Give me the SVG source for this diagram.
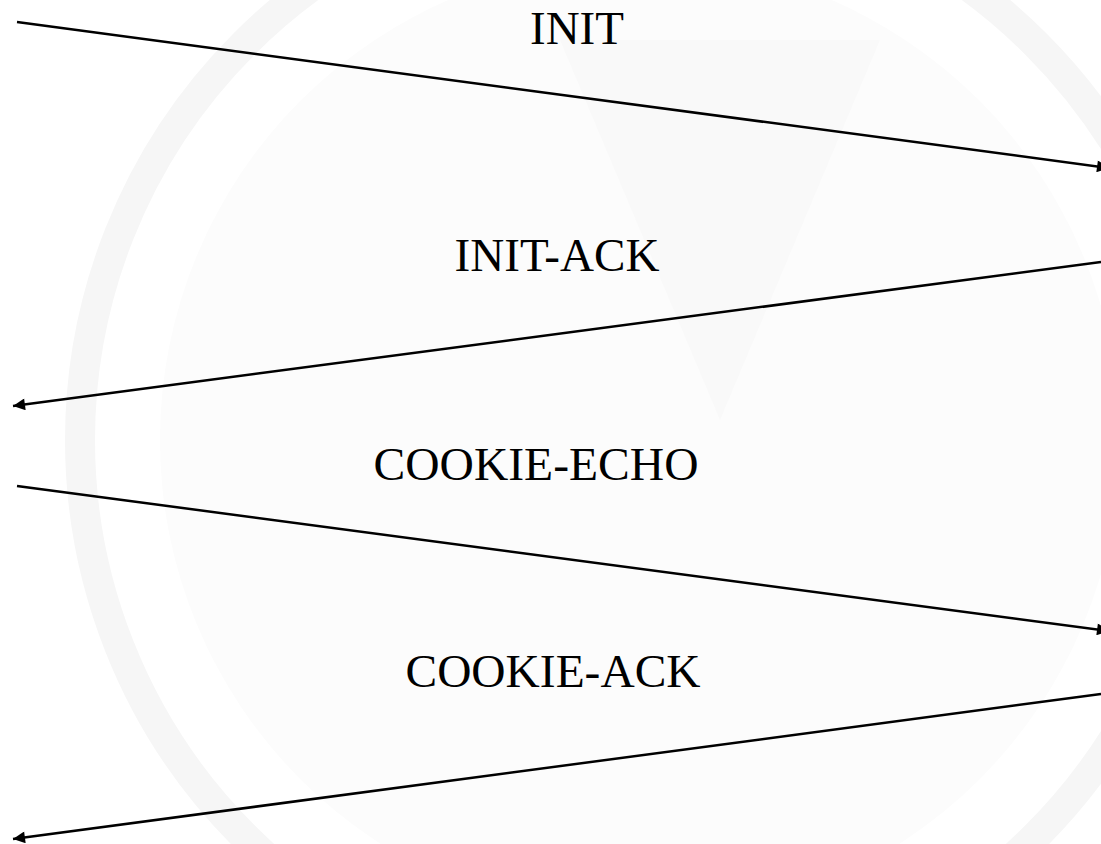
<svg xmlns="http://www.w3.org/2000/svg" width="1101" height="844" viewBox="0 0 1101 844">
  <style>
    .msg { stroke: #000; stroke-width: 2.5; fill: none; marker-end: url(#ah); }
    .lbl { font-family: "Liberation Serif", "Times New Roman", serif; font-size: 47px; fill: #000; text-anchor: middle; }
    .wm { fill: none; stroke: #f6f6f6; }
  </style>
  <defs>
    <marker id="ah" viewBox="0 0 10 10" refX="10" refY="5" markerWidth="17" markerHeight="12" markerUnits="userSpaceOnUse" orient="auto">
      <path d="M0,0 L10,5 L0,10 Z" fill="#000"/>
    </marker>
  </defs>
  <rect width="1101" height="844" fill="#ffffff"/>
  <g id="watermark">
    <circle class="wm" cx="640" cy="440" r="560" stroke-width="30"/>
    <circle cx="640" cy="440" r="480" fill="#fcfcfc"/>
    <path d="M560,40 L880,40 L720,420 Z" fill="#f9f9f9"/>
  </g>
  <g id="connectors">
    <line class="msg" x1="17" y1="22" x2="1109" y2="168"/>
    <line class="msg" x1="1101" y1="262" x2="13" y2="406"/>
    <line class="msg" x1="17" y1="486" x2="1109" y2="631"/>
    <line class="msg" x1="1101" y1="694" x2="13" y2="839"/>
  </g>
  <g id="label-init"><text class="lbl" x="577" y="44">INIT</text></g>
  <g id="label-init-ack"><text class="lbl" x="557" y="271" textLength="205" lengthAdjust="spacingAndGlyphs">INIT-ACK</text></g>
  <g id="label-cookie-echo"><text class="lbl" x="536" y="480" textLength="325" lengthAdjust="spacingAndGlyphs">COOKIE-ECHO</text></g>
  <g id="label-cookie-ack"><text class="lbl" x="553" y="687" textLength="295" lengthAdjust="spacingAndGlyphs">COOKIE-ACK</text></g>
</svg>
